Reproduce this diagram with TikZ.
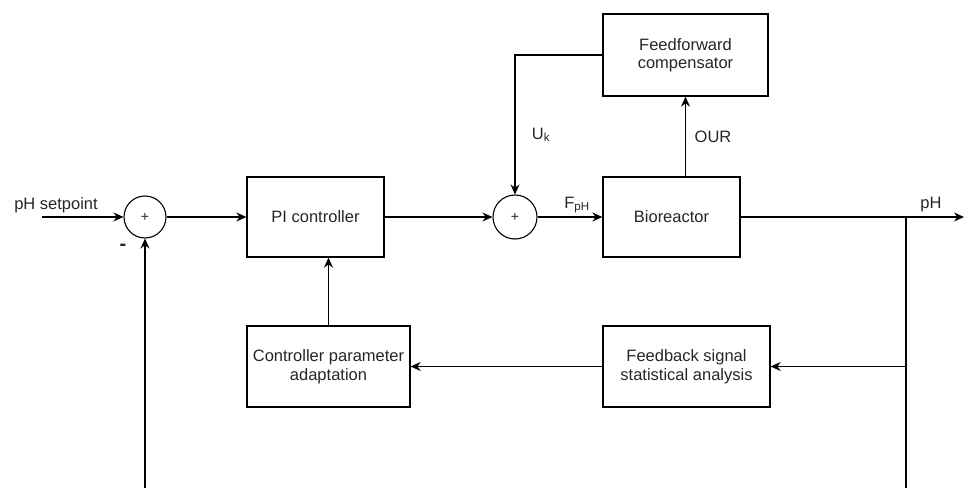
\documentclass[tikz,border=0pt]{standalone}
\usepackage{fontspec}
\setmainfont{Liberation Sans}
\usetikzlibrary{arrows.meta,calc}
\definecolor{txt}{HTML}{262626}
\tikzset{
  blk/.style={draw, line width=1.3pt, rectangle, align=center, text=txt, font=\fontsize{16.5}{18.5}\selectfont},
  sumnode/.style={draw, line width=1.1pt, circle, inner sep=0pt, text=txt, font=\fontsize{14}{14}\selectfont},
  lbl/.style={text=txt, font=\fontsize{16.5}{18.5}\selectfont, inner sep=0pt},
  arr/.style={line width=1.3pt, -{Stealth[length=10pt,width=9pt]}}
}
\begin{document}
\begin{tikzpicture}[x=1pt,y=-1pt]
\useasboundingbox (0,0) rectangle (965,487);
\clip (0,0) rectangle (965,487);
% blocks
\node[blk, minimum width=137pt, minimum height=80pt] (pi) at (315.5,217) {PI controller};
\node[blk, minimum width=137pt, minimum height=80pt] (bio) at (671.5,217) {Bioreactor};
\node[blk, minimum width=165pt, minimum height=82pt] (ff) at (685.5,55) {Feedforward\\compensator};
\node[blk, minimum width=167pt, minimum height=81pt] (fb) at (686.5,366.5) {Feedback signal\\statistical analysis};
\node[blk, minimum width=163pt, minimum height=81pt] (cpa) at (328.5,366.5) {Controller parameter\\adaptation};
% summing junctions
\node[sumnode, minimum size=42pt] (s1) at (145,217) {+};
\node[sumnode, minimum size=44pt] (s2) at (515,217) {+};
% coordinates
\coordinate (in) at (42,217);
\coordinate (out) at (964,217);
\coordinate (br) at (906,217);
\coordinate (bot) at (906,510);
\coordinate (botl) at (145,510);
% labels
\node[lbl] (lsp) at (56,205) {pH setpoint};
\node[lbl] (lminus) at (123,247) {\fontsize{20}{20}\selectfont\bfseries -};
\node[lbl] (luk) at (541,135) {U\textsubscript{k}};
\node[lbl] (lfph) at (577,205) {F\textsubscript{pH}};
\node[lbl] (lour) at (713,137) {OUR};
\node[lbl] (lph) at (931,205) {pH};
% connectors
\draw[arr] (in) -- (s1.west);
\draw[arr] (s1.east) -- (pi.west);
\draw[arr] (pi.east) -- (s2.west);
\draw[arr] (s2.east) -- (bio.west);
\draw[arr] (bio.east) -- (out);
\draw[arr] (ff.south |- bio.north) -- (ff.south);
\draw[arr] (ff.west) -| (s2.north);
\draw[arr] (br) |- (fb.east);
\draw[arr] (fb.west) -- (cpa.east);
\draw[arr] (cpa.north) -- (cpa.north |- pi.south);
\draw[arr] (br) -- (bot) -- (botl) -- (s1.south);
\end{tikzpicture}
\end{document}
